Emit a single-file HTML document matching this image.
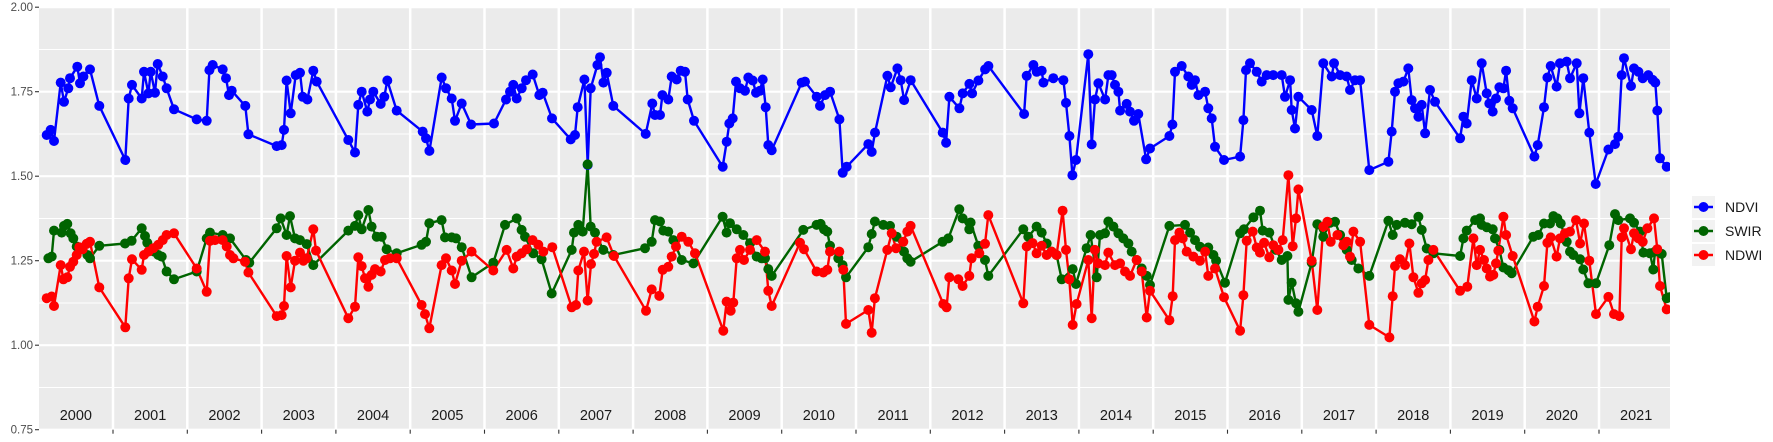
<!DOCTYPE html>
<html><head><meta charset="utf-8">
<style>
html,body{margin:0;padding:0;background:#fff;}
svg{display:block;font-family:"Liberation Sans",sans-serif;}
</style></head>
<body>
<svg id="chart" width="1773" height="442" viewBox="0 0 1773 442" xmlns="http://www.w3.org/2000/svg">
<rect x="39" y="7.2" width="1631" height="422.5" fill="#ebebeb"/>
<g id="grid"></g>
<g id="yaxis"></g>
<g id="xaxis"></g>
<defs><clipPath id="clip"><rect x="39" y="7.2" width="1631" height="422.5"/></clipPath></defs>
<g id="series" clip-path="url(#clip)"></g>
<g id="legend"></g>
</svg>
<script>
const yTicks = [0.75, 1.00, 1.25, 1.50, 1.75, 2.00];
const yTickLabels = ["0.75", "1.00", "1.25", "1.50", "1.75", "2.00"];
const yearLabels = ["2000","2001","2002","2003","2004","2005","2006","2007","2008","2009","2010","2011","2012","2013","2014","2015","2016","2017","2018","2019","2020","2021"];
const seriesNames = ["NDVI","SWIR","NDWI"];

const ndviDates = [0.107,0.161,0.206,0.296,0.341,0.399,0.421,0.520,0.556,0.601,0.691,0.816,1.166,1.211,1.256,1.386,1.417,1.476,1.507,1.565,1.601,1.669,1.722,1.821,2.126,2.261,2.297,2.342,2.476,2.521,2.561,2.597,2.781,2.822,3.203,3.270,3.302,3.337,3.391,3.459,3.517,3.553,3.616,3.696,3.741,4.167,4.257,4.302,4.347,4.423,4.459,4.504,4.603,4.652,4.692,4.818,
5.168,5.213,5.258,5.424,5.482,5.558,5.603,5.693,5.819,6.128,6.290,6.343,6.388,6.433,6.501,6.559,6.649,6.738,6.783,6.909,7.160,7.218,7.254,7.344,7.389,7.429,7.519,7.555,7.600,7.645,7.734,8.169,8.259,8.295,8.362,8.394,8.474,8.519,8.587,8.640,8.699,8.735,8.820,9.206,9.260,9.295,9.340,9.385,9.439,9.506,9.551,9.610,9.654,9.708,9.744,9.784,9.820,9.865,
10.269,10.314,10.471,10.516,10.583,10.651,10.776,10.821,10.875,11.166,11.211,11.256,11.422,11.467,11.557,11.602,11.647,11.736,12.167,12.212,12.257,12.391,12.436,12.526,12.562,12.647,12.737,12.782,13.262,13.297,13.387,13.432,13.499,13.522,13.656,13.791,13.827,13.872,13.912,13.961,14.127,14.172,14.217,14.262,14.352,14.397,14.441,14.486,14.531,14.554,14.643,14.688,14.742,14.800,14.904,14.957,
15.218,15.258,15.294,15.384,15.473,15.518,15.563,15.608,15.698,15.742,15.787,15.832,15.953,16.169,16.214,16.249,16.303,16.393,16.460,16.528,16.617,16.729,16.774,16.842,16.864,16.909,16.954,17.133,17.209,17.290,17.402,17.434,17.515,17.604,17.649,17.716,17.784,17.909,18.165,18.210,18.255,18.300,18.367,18.434,18.479,18.524,18.569,18.614,18.659,18.726,18.793,19.130,19.175,19.219,19.287,19.354,19.421,19.489,
19.524,19.569,19.614,19.659,19.713,19.749,19.793,19.838,20.130,20.175,20.260,20.305,20.350,20.430,20.475,20.565,20.610,20.700,20.736,20.789,20.870,20.955,21.126,21.216,21.260,21.305,21.337,21.431,21.471,21.530,21.588,21.664,21.723,21.758,21.785,21.821,21.911];
const ndviValues = [1.622,1.637,1.604,1.777,1.720,1.760,1.790,1.824,1.775,1.795,1.816,1.708,1.548,1.730,1.770,1.730,1.809,1.745,1.809,1.747,1.832,1.795,1.760,1.698,1.668,1.664,1.814,1.829,1.816,1.790,1.740,1.753,1.708,1.624,1.589,1.592,1.637,1.783,1.686,1.799,1.806,1.735,1.727,1.812,1.780,1.607,1.570,1.711,1.750,1.691,1.727,1.750,1.714,1.735,1.783,1.694,
1.632,1.612,1.575,1.792,1.760,1.730,1.664,1.715,1.653,1.656,1.727,1.750,1.770,1.730,1.760,1.784,1.801,1.740,1.747,1.671,1.609,1.622,1.704,1.786,1.533,1.760,1.829,1.852,1.777,1.806,1.708,1.625,1.715,1.681,1.681,1.740,1.727,1.795,1.786,1.812,1.809,1.727,1.664,1.528,1.602,1.656,1.671,1.780,1.760,1.753,1.792,1.783,1.747,1.753,1.786,1.704,1.592,1.577,
1.777,1.780,1.735,1.708,1.740,1.750,1.668,1.510,1.528,1.595,1.572,1.629,1.797,1.763,1.819,1.784,1.725,1.784,1.629,1.599,1.735,1.701,1.745,1.773,1.745,1.783,1.816,1.826,1.684,1.797,1.829,1.809,1.812,1.777,1.790,1.784,1.717,1.619,1.503,1.548,1.861,1.594,1.727,1.775,1.727,1.799,1.799,1.770,1.750,1.694,1.714,1.691,1.664,1.684,1.550,1.582,
1.619,1.653,1.809,1.826,1.795,1.770,1.784,1.740,1.750,1.701,1.671,1.587,1.548,1.558,1.666,1.814,1.834,1.809,1.780,1.799,1.799,1.799,1.735,1.784,1.696,1.641,1.735,1.696,1.619,1.834,1.795,1.834,1.799,1.795,1.755,1.784,1.784,1.518,1.543,1.632,1.750,1.775,1.780,1.819,1.725,1.701,1.676,1.711,1.627,1.755,1.720,1.612,1.676,1.656,1.784,1.730,1.834,1.745,
1.715,1.691,1.730,1.763,1.760,1.812,1.723,1.701,1.558,1.592,1.704,1.792,1.826,1.765,1.834,1.839,1.790,1.834,1.686,1.790,1.629,1.477,1.579,1.595,1.617,1.799,1.849,1.767,1.819,1.809,1.790,1.799,1.785,1.777,1.694,1.553,1.528];

const swirDates = [0.130,0.175,0.206,0.309,0.341,0.385,0.430,0.466,0.511,0.578,0.655,0.691,0.816,1.162,1.251,1.386,1.431,1.462,1.552,1.610,1.655,1.722,1.821,2.126,2.261,2.306,2.476,2.575,2.790,2.835,3.203,3.257,3.337,3.382,3.450,3.517,3.607,3.696,4.167,4.257,4.302,4.347,4.437,4.481,4.549,4.616,4.683,4.818,
5.154,5.213,5.257,5.423,5.468,5.558,5.616,5.693,5.827,6.119,6.276,6.433,6.500,6.545,6.657,6.769,6.904,7.173,7.204,7.263,7.321,7.388,7.429,7.487,7.599,7.734,8.160,8.250,8.295,8.362,8.407,8.474,8.541,8.654,8.811,9.205,9.259,9.304,9.394,9.484,9.573,9.663,
9.730,9.775,9.820,9.865,10.291,10.470,10.524,10.569,10.614,10.650,10.762,10.820,10.865,11.166,11.211,11.255,11.368,11.457,11.547,11.646,11.691,11.735,12.166,12.242,12.390,12.435,12.525,12.543,12.646,12.736,12.781,13.252,13.319,13.431,13.499,13.566,13.633,13.700,13.768,13.916,13.961,14.104,14.158,14.239,14.284,14.351,14.396,
14.464,14.531,14.598,14.666,14.711,14.778,14.845,14.912,14.957,15.218,15.428,15.496,15.563,15.630,15.742,15.810,15.846,15.967,16.169,16.222,16.348,16.438,16.474,16.563,16.653,16.729,16.806,16.819,16.864,16.922,16.954,17.133,17.209,17.290,17.380,17.447,17.515,17.604,17.672,17.761,17.909,18.165,18.223,18.277,18.389,18.479,18.569,18.614,18.681,18.771,19.130,19.175,19.219,19.332,19.399,
19.421,19.488,19.569,19.600,19.659,19.713,19.780,19.825,20.116,20.184,20.260,20.341,20.386,20.439,20.484,20.565,20.610,20.655,20.745,20.789,20.857,20.960,21.139,21.216,21.260,21.417,21.471,21.552,21.597,21.687,21.731,21.754,21.844,21.911,21.947];
const swirValues = [1.257,1.262,1.339,1.333,1.353,1.359,1.331,1.316,1.292,1.287,1.267,1.257,1.294,1.301,1.309,1.346,1.323,1.303,1.277,1.267,1.262,1.218,1.195,1.218,1.316,1.333,1.326,1.316,1.252,1.244,1.346,1.375,1.326,1.382,1.316,1.311,1.299,1.237,1.339,1.353,1.385,1.343,1.400,1.351,1.321,1.321,1.284,1.272,
1.297,1.306,1.361,1.370,1.319,1.319,1.316,1.290,1.201,1.244,1.356,1.375,1.341,1.321,1.272,1.254,1.153,1.282,1.333,1.356,1.336,1.535,1.351,1.333,1.282,1.267,1.287,1.306,1.370,1.366,1.339,1.336,1.311,1.252,1.242,1.380,1.333,1.361,1.343,1.326,1.302,1.262,
1.257,1.257,1.225,1.205,1.341,1.356,1.359,1.343,1.336,1.294,1.257,1.237,1.201,1.290,1.329,1.366,1.356,1.353,1.321,1.277,1.257,1.247,1.306,1.316,1.402,1.375,1.343,1.363,1.294,1.252,1.205,1.343,1.321,1.351,1.333,1.301,1.277,1.267,1.195,1.225,1.181,1.287,1.326,1.201,1.326,1.331,1.366,
1.351,1.331,1.316,1.301,1.277,1.252,1.227,1.205,1.178,1.353,1.356,1.333,1.311,1.291,1.289,1.267,1.250,1.185,1.331,1.343,1.378,1.398,1.339,1.333,1.282,1.252,1.264,1.134,1.185,1.124,1.099,1.244,1.358,1.321,1.362,1.365,1.326,1.282,1.252,1.227,1.205,1.368,1.326,1.356,1.362,1.358,1.380,1.341,1.286,1.272,1.264,1.316,1.339,1.370,1.375,
1.356,1.349,1.343,1.316,1.282,1.230,1.222,1.213,1.321,1.326,1.360,1.360,1.382,1.375,1.360,1.306,1.277,1.267,1.254,1.224,1.183,1.183,1.296,1.388,1.370,1.375,1.362,1.336,1.274,1.272,1.224,1.277,1.270,1.139,1.142];

const ndwiDates = [0.107,0.175,0.206,0.296,0.332,0.385,0.421,0.466,0.511,0.547,0.592,0.646,0.691,0.816,1.166,1.211,1.256,1.386,1.417,1.476,1.543,1.610,1.669,1.722,1.821,2.126,2.261,2.306,2.373,2.476,2.530,2.575,2.620,2.777,2.822,3.203,3.270,3.302,3.337,3.391,3.450,3.517,3.562,3.607,3.696,3.732,4.167,4.257,4.302,4.347,4.392,4.437,4.481,4.526,4.603,4.661,4.728,4.818,
5.154,5.199,5.257,5.423,5.482,5.558,5.603,5.693,5.827,6.119,6.298,6.388,6.433,6.500,6.567,6.648,6.724,6.792,6.913,7.173,7.231,7.263,7.339,7.388,7.433,7.474,7.509,7.644,7.743,8.173,8.250,8.353,8.398,8.474,8.519,8.577,8.654,8.743,8.833,9.214,9.259,9.313,9.349,9.394,9.439,9.493,9.573,9.663,
9.775,9.820,9.865,10.246,10.300,10.470,10.560,10.614,10.650,10.775,10.829,10.865,11.166,11.211,11.255,11.421,11.480,11.538,11.637,11.691,11.735,12.175,12.220,12.256,12.377,12.435,12.525,12.556,12.660,12.736,12.781,13.252,13.297,13.377,13.431,13.499,13.566,13.633,13.700,13.781,13.826,13.871,13.916,13.969,14.127,14.172,14.216,14.261,14.351,14.396,
14.486,14.554,14.621,14.688,14.778,14.845,14.912,14.957,15.218,15.262,15.294,15.352,15.397,15.451,15.541,15.630,15.698,15.742,15.832,15.953,16.169,16.214,16.258,16.339,16.393,16.438,16.492,16.563,16.617,16.685,16.743,16.819,16.877,16.922,16.954,17.133,17.209,17.290,17.344,17.389,17.479,17.559,17.604,17.649,17.694,17.784,17.909,18.179,18.223,18.255,18.322,18.389,18.448,18.502,18.569,18.614,18.659,18.704,18.771,19.130,19.228,19.309,
19.354,19.399,19.452,19.488,19.533,19.578,19.614,19.645,19.713,19.749,19.838,20.130,20.175,20.260,20.305,20.350,20.430,20.475,20.543,20.610,20.691,20.745,20.798,20.870,20.960,21.126,21.202,21.274,21.305,21.337,21.431,21.471,21.530,21.588,21.651,21.740,21.785,21.821,21.911];
const ndwiValues = [1.139,1.144,1.116,1.237,1.195,1.201,1.232,1.247,1.267,1.290,1.284,1.300,1.306,1.171,1.053,1.198,1.254,1.223,1.267,1.277,1.287,1.297,1.311,1.326,1.331,1.227,1.158,1.309,1.311,1.311,1.292,1.267,1.257,1.247,1.215,1.086,1.089,1.116,1.264,1.171,1.250,1.274,1.250,1.257,1.343,1.280,1.080,1.114,1.260,1.234,1.198,1.173,1.208,1.225,1.218,1.252,1.257,1.257,
1.119,1.092,1.050,1.237,1.257,1.221,1.181,1.250,1.277,1.221,1.282,1.227,1.262,1.272,1.284,1.311,1.297,1.277,1.290,1.112,1.119,1.221,1.277,1.132,1.240,1.270,1.306,1.319,1.264,1.102,1.165,1.146,1.223,1.232,1.262,1.292,1.321,1.306,1.272,1.043,1.129,1.102,1.126,1.257,1.282,1.252,1.282,1.311,
1.277,1.161,1.116,1.303,1.284,1.218,1.215,1.223,1.277,1.277,1.223,1.063,1.104,1.037,1.139,1.282,1.331,1.287,1.306,1.336,1.353,1.122,1.112,1.201,1.195,1.175,1.205,1.257,1.272,1.300,1.385,1.124,1.292,1.302,1.272,1.294,1.267,1.277,1.267,1.398,1.282,1.195,1.060,1.122,1.252,1.080,1.282,1.242,1.237,1.274,
1.237,1.242,1.218,1.205,1.252,1.218,1.082,1.161,1.074,1.145,1.311,1.333,1.316,1.277,1.262,1.250,1.277,1.205,1.227,1.142,1.043,1.148,1.309,1.336,1.289,1.274,1.303,1.260,1.296,1.282,1.311,1.503,1.293,1.375,1.461,1.250,1.104,1.351,1.365,1.306,1.326,1.296,1.306,1.262,1.336,1.306,1.060,1.023,1.145,1.234,1.254,1.237,1.301,1.201,1.155,1.183,1.193,1.252,1.282,1.161,1.173,1.316,
1.237,1.282,1.252,1.227,1.203,1.208,1.242,1.280,1.380,1.326,1.264,1.070,1.114,1.175,1.303,1.319,1.262,1.316,1.331,1.336,1.370,1.301,1.360,1.250,1.092,1.143,1.092,1.086,1.319,1.346,1.284,1.331,1.316,1.306,1.346,1.375,1.284,1.175,1.106];

const NS = "http://www.w3.org/2000/svg";
const PL = 39, PR = 1670, PT = 7.2, PB = 429.7;
const yMin = 0.75, yMax = 2.00;
function xScale(t){ return 38.7 + 74.3 * t; }
function yScale(v){ return PB - (v - yMin) / (yMax - yMin) * (PB - PT); }
function mk(tag, attrs, parent){ const e = document.createElementNS(NS, tag); for (const k in attrs) e.setAttribute(k, attrs[k]); parent.appendChild(e); return e; }

const grid = document.getElementById('grid');
for (let i = 0; i < yTicks.length - 1; i++) {
  const mv = (yTicks[i] + yTicks[i+1]) / 2;
  const l = mk('line', {x1: PL, x2: PR, y1: yScale(mv), y2: yScale(mv), stroke: '#fff', 'stroke-width': 1}, grid);
  
  
}
yTicks.forEach(v => {
  const l = mk('line', {x1: PL, x2: PR, y1: yScale(v), y2: yScale(v), stroke: '#fff', 'stroke-width': 2.2}, grid);
  
  
});
for (let i = 1; i < yearLabels.length; i++) {
  const l = mk('line', {x1: xScale(i), x2: xScale(i), y1: PT, y2: PB, stroke: '#fff', 'stroke-width': 2.5}, grid);
  
  
}

const yaxis = document.getElementById('yaxis');
yTicks.forEach((v, i) => {
  const t = mk('line', {x1: 35, x2: 39, y1: yScale(v), y2: yScale(v), stroke: '#333', 'stroke-width': 1.1}, yaxis);
  
  
  const tx = mk('text', {x: 33, y: yScale(v) + 4, 'text-anchor': 'end', 'font-size': 11.5, fill: '#4d4d4d'}, yaxis);
  tx.textContent = yTickLabels[i];
  
  
});

const xaxis = document.getElementById('xaxis');
yearLabels.forEach((y, i) => {
  if (i > 0) {
    const t = mk('line', {x1: xScale(i), x2: xScale(i), y1: PB, y2: PB + 4, stroke: '#333', 'stroke-width': 1.1}, xaxis);
    
    
  }
  const tx = mk('text', {x: xScale(i + 0.5), y: 420, 'text-anchor': 'middle', 'font-size': 14.5, fill: '#1a1a1a'}, xaxis);
  tx.textContent = y;
  
  
});

const series = [
  {name: 'NDVI', dates: ndviDates, values: ndviValues, color: '#0000ff'},
  {name: 'SWIR', dates: swirDates, values: swirValues, color: '#006400'},
  {name: 'NDWI', dates: ndwiDates, values: ndwiValues, color: '#ff0000'}
];
const sg = document.getElementById('series');
series.forEach(s => {
  const n = Math.min(s.dates.length, s.values.length);
  let d = '';
  for (let i = 0; i < n; i++) d += (i ? 'L' : 'M') + xScale(s.dates[i]).toFixed(1) + ',' + yScale(s.values[i]).toFixed(1);
  const p = mk('path', {d: d, fill: 'none', stroke: s.color, 'stroke-width': 2.4, 'stroke-linejoin': 'round'}, sg);
  
  
});
series.forEach(s => {
  const n = Math.min(s.dates.length, s.values.length);
  for (let i = 0; i < n; i++) {
    const c = mk('circle', {cx: xScale(s.dates[i]).toFixed(1), cy: yScale(s.values[i]).toFixed(1), r: 5, fill: s.color}, sg);
    
    
  }
});

const lg = document.getElementById('legend');
series.forEach((s, i) => {
  const cy = 207 + i * 24;
  const bg = mk('rect', {x: 1692, y: cy - 11, width: 23, height: 22, fill: '#f2f2f2'}, lg);
  
  
  const ln = mk('line', {x1: 1694, x2: 1713, y1: cy, y2: cy, stroke: s.color, 'stroke-width': 2.4}, lg);
  
  
  const c = mk('circle', {cx: 1703.5, cy: cy, r: 5, fill: s.color}, lg);
  
  
  const t = mk('text', {x: 1725, y: cy + 5, 'font-size': 14, fill: '#1a1a1a'}, lg);
  t.textContent = seriesNames[i];
  
  
});
</script>
</body></html>
